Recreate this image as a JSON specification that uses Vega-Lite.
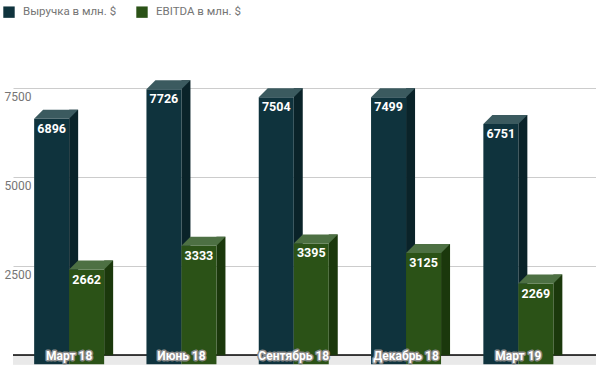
{
  "$schema": "https://vega.github.io/schema/vega-lite/v6.json",
  "autosize": "none",
  "width": 583,
  "height": 334.3,
  "padding": {"left": 13, "top": 30, "right": 0, "bottom": 3.7},
  "config": {
    "view": {"stroke": null},
    "font": "Roboto",
    "legend": {
      "orient": "none",
      "legendX": -10,
      "legendY": -24,
      "direction": "horizontal",
      "symbolType": "square",
      "symbolSize": 130,
      "symbolStrokeWidth": 0,
      "symbolOpacity": 1,
      "labelFont": "Roboto",
      "labelFontSize": 11.5,
      "labelColor": "#757575",
      "labelOffset": 8,
      "columnPadding": 19,
      "title": null
    }
  },
  "data": {
    "values": [
      {"month": "Март 18", "series": "Выручка в млн. $", "value": 6896},
      {"month": "Март 18", "series": "EBITDA в млн. $", "value": 2662},
      {"month": "Июнь 18", "series": "Выручка в млн. $", "value": 7726},
      {"month": "Июнь 18", "series": "EBITDA в млн. $", "value": 3333},
      {"month": "Сентябрь 18", "series": "Выручка в млн. $", "value": 7504},
      {"month": "Сентябрь 18", "series": "EBITDA в млн. $", "value": 3395},
      {"month": "Декабрь 18", "series": "Выручка в млн. $", "value": 7499},
      {"month": "Декабрь 18", "series": "EBITDA в млн. $", "value": 3125},
      {"month": "Март 19", "series": "Выручка в млн. $", "value": 6751},
      {"month": "Март 19", "series": "EBITDA в млн. $", "value": 2269}
    ]
  },
  "resolve": {"scale": {"y": "independent", "xOffset": "independent", "color": "independent"}, "axis": {"y": "independent"}},
  "layer": [
    {
      "mark": {"type": "rect", "color": "#e9e9e9"},
      "encoding": {
        "y": {"datum": 0, "type": "quantitative", "scale": {"domain": [-253, 9137], "nice": false, "zero": false},
          "axis": {"values": [2500, 5000, 7500], "format": "d", "grid": true, "gridColor": "#cccccc", "gridWidth": 1, "domain": false, "ticks": false, "tickSize": 0,
            "labelAlign": "left", "labelPadding": 9, "labelBaseline": "top", "labelOffset": 3, "labelColor": "#757575", "labelFontSize": 12, "labelFont": "Roboto", "title": null}},
        "y2": {"datum": -253}
      }
    },
    {
      "mark": {"type": "rule", "color": "#333333", "strokeWidth": 1},
      "encoding": {
        "y": {"datum": 0, "type": "quantitative", "scale": {"domain": [-253, 9137], "nice": false, "zero": false}, "axis": null}
      }
    },
    {
      "mark": {"type": "bar", "opacity": 1},
      "encoding": {
        "x": {"field": "month", "type": "nominal", "sort": null, "scale": {"type": "band", "range": [0, 561.5], "paddingInner": 0.3767, "paddingOuter": 0.18835}, "axis": null},
        "xOffset": {"field": "series", "type": "nominal", "sort": ["Выручка в млн. $", "EBITDA в млн. $"], "scale": {"type": "band", "range": [35, 79], "paddingInner": 0.742857, "paddingOuter": 0}},
        "y": {"field": "value", "type": "quantitative", "scale": {"domain": [-253, 9137], "nice": false, "zero": false}, "axis": null},
        "y2": {"datum": 0},
        "color": {"field": "series", "type": "nominal", "scale": {"domain": ["Выручка в млн. $", "EBITDA в млн. $"], "range": ["#0a2329", "#1b380c"]}, "legend": null}
      }
    },
    {
      "mark": {"type": "bar", "opacity": 1},
      "encoding": {
        "x": {"field": "month", "type": "nominal", "sort": null, "scale": {"type": "band", "range": [0, 561.5], "paddingInner": 0.3767, "paddingOuter": 0.18835}, "axis": null},
        "xOffset": {"field": "series", "type": "nominal", "sort": ["Выручка в млн. $", "EBITDA в млн. $"], "scale": {"type": "band", "paddingInner": 0, "paddingOuter": 0}},
        "y": {"field": "value", "type": "quantitative", "scale": {"domain": [0, 9390], "nice": false, "zero": false}, "axis": null},
        "color": {"field": "series", "type": "nominal", "scale": {"domain": ["Выручка в млн. $", "EBITDA в млн. $"], "range": ["#0f333d", "#2b5217"]}}
      }
    },
    {
      "mark": {"type": "point", "filled": true, "opacity": 1, "size": 4, "strokeWidth": 0, "shape": "M-17.5,0L17.5,0L26.5,-9L-8.5,-9Z"},
      "encoding": {
        "x": {"field": "month", "type": "nominal", "sort": null, "scale": {"type": "band", "range": [0, 561.5], "paddingInner": 0.3767, "paddingOuter": 0.18835}, "axis": null},
        "xOffset": {"field": "series", "type": "nominal", "sort": ["Выручка в млн. $", "EBITDA в млн. $"], "scale": {"type": "band", "paddingInner": 0, "paddingOuter": 0}},
        "y": {"field": "value", "type": "quantitative", "scale": {"domain": [0, 9390], "nice": false, "zero": false}, "axis": null},
        "color": {"field": "series", "type": "nominal", "scale": {"domain": ["Выручка в млн. $", "EBITDA в млн. $"], "range": ["#3b5a5f", "#4d7043"]}, "legend": null}
      }
    },
    {
      "mark": {"type": "text", "color": "white", "fontWeight": "bold", "fontSize": 12.5, "font": "Roboto", "baseline": "middle", "dy": 10},
      "encoding": {
        "x": {"field": "month", "type": "nominal", "sort": null, "scale": {"type": "band", "range": [0, 561.5], "paddingInner": 0.3767, "paddingOuter": 0.18835}, "axis": null},
        "xOffset": {"field": "series", "type": "nominal", "sort": ["Выручка в млн. $", "EBITDA в млн. $"], "scale": {"type": "band", "paddingInner": 0, "paddingOuter": 0}},
        "y": {"field": "value", "type": "quantitative", "scale": {"domain": [0, 9390], "nice": false, "zero": false}, "axis": null},
        "text": {"field": "value", "type": "quantitative", "format": "d"}
      }
    },
    {
      "transform": [{"filter": "datum.series === 'Выручка в млн. $'"}],
      "mark": {"type": "text", "color": "#8a8a8a", "stroke": "#8a8a8a", "strokeWidth": 3, "strokeJoin": "round", "fontWeight": "bold", "fontSize": 12, "font": "Roboto", "baseline": "middle", "dy": -8},
      "encoding": {
        "x": {"field": "month", "type": "nominal", "sort": null, "scale": {"type": "band", "range": [0, 561.5], "paddingInner": 0.3767, "paddingOuter": 0.18835}, "axis": null},
        "y": {"datum": 0, "type": "quantitative", "scale": {"domain": [0, 9390], "nice": false, "zero": false}, "axis": null},
        "text": {"field": "month", "type": "nominal"}
      }
    },
    {
      "transform": [{"filter": "datum.series === 'Выручка в млн. $'"}],
      "mark": {"type": "text", "color": "white", "fontWeight": "bold", "fontSize": 12, "font": "Roboto", "baseline": "middle", "dy": -8},
      "encoding": {
        "x": {"field": "month", "type": "nominal", "sort": null, "scale": {"type": "band", "range": [0, 561.5], "paddingInner": 0.3767, "paddingOuter": 0.18835}, "axis": null},
        "y": {"datum": 0, "type": "quantitative", "scale": {"domain": [0, 9390], "nice": false, "zero": false}, "axis": null},
        "text": {"field": "month", "type": "nominal"}
      }
    }
  ]
}
